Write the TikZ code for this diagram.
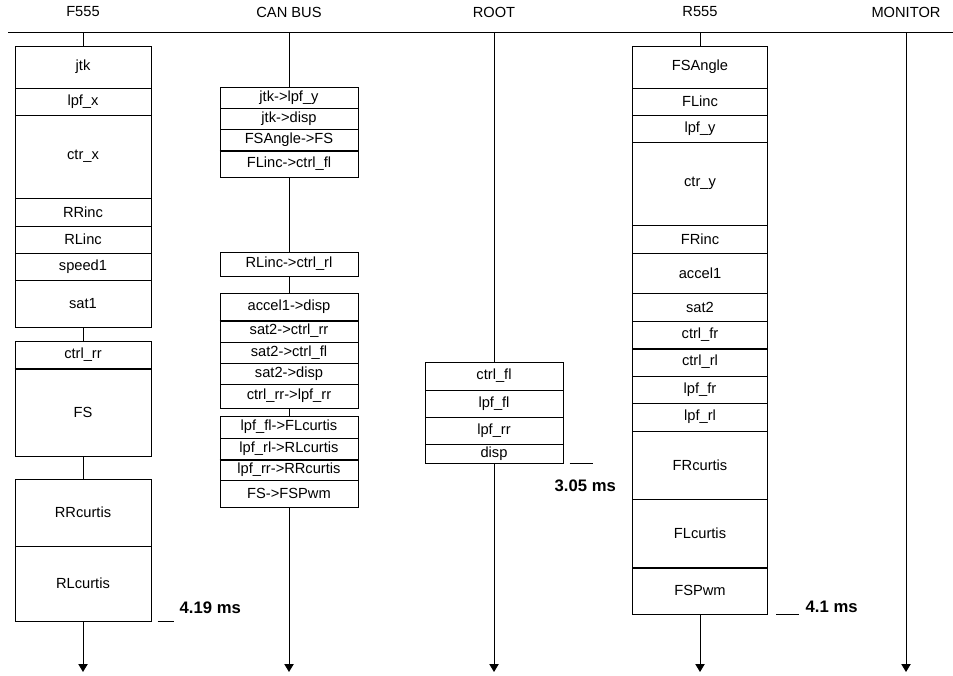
\documentclass[tikz,border=0pt]{standalone}
\usepackage{fontspec}
\setmainfont{Liberation Sans}
\usetikzlibrary{arrows.meta}
\definecolor{ink}{HTML}{000000}
\tikzset{
  cell/.style={draw=ink,line width=0.75pt,inner sep=0,align=center,text=ink,
               font=\fontsize{11}{12}\selectfont},
  head/.style={text=ink,font=\fontsize{11}{13}\selectfont},
  timing/.style={text=ink,anchor=west,font=\fontsize{12.5}{14}\selectfont\bfseries},
  bus/.style={draw=ink,line width=0.75pt},
  flow/.style={bus,-{Triangle[length=6pt,width=7pt]}},
  divider/.style={draw=ink,line width=1.5pt}
}

\begin{document}
\begin{tikzpicture}[x=0.75pt,y=-0.75pt]
  \useasboundingbox (0,0) rectangle (953,675);
  % processors and bus
  \foreach \n/\x/\t in {F/83/F555,C/289/CAN BUS,R/494/ROOT,S/700/R555,M/906/MONITOR}{
    \node[head] (h\n) at (\x,12) {\t};
    \coordinate (t\n) at (\x,32);
    \coordinate (e\n) at (\x,672);}
  \coordinate (busL) at (8,32);
  \coordinate (busR) at (953,32);
  \draw[bus] (busL) -- (busR);
  % F555 tasks
  \foreach \n/\t/\b/\s in {f1/46/88/jtk,f2/88/115/lpf\_x,f3/115/198/ctr\_x,f4/198/226/RRinc,
      f5/226/253/RLinc,f6/253/280/speed1,f7/280/327/sat1,f8/341/368/ctrl\_rr,f9/368/456/FS,
      f10/479/546/RRcurtis,f11/546/621/RLcurtis}
    \node[cell,minimum width=102pt,minimum height=(\b-\t)*0.75pt] (\n) at (83,{(\t+\b)/2}) {\s};
  % CAN messages
  \foreach \n/\t/\b/\s in {c1/87/108/jtk->lpf\_y,c2/108/129/jtk->disp,c3/129/150/FSAngle->FS,
      c4/150/177/FLinc->ctrl\_fl,c5/252/276/RLinc->ctrl\_rl,c6/293/320/accel1->disp,
      c7/320/342/sat2->ctrl\_rr,c8/342/363/sat2->ctrl\_fl,c9/363/384/sat2->disp,
      c10/384/408/ctrl\_rr->lpf\_rr,c11/416/438/lpf\_fl->FLcurtis,c12/438/459/lpf\_rl->RLcurtis,
      c13/459/480/lpf\_rr->RRcurtis,c14/480/507/FS->FSPwm}
    \node[cell,minimum width=103.5pt,minimum height=(\b-\t)*0.75pt] (\n) at (289,{(\t+\b)/2}) {\s};
  % ROOT tasks
  \foreach \n/\t/\b/\s in {r1/362/390/ctrl\_fl,r2/390/417/lpf\_fl,r3/417/444/lpf\_rr,r4/444/463/disp}
    \node[cell,minimum width=103.5pt,minimum height=(\b-\t)*0.75pt] (\n) at (494,{(\t+\b)/2}) {\s};
  % R555 tasks
  \foreach \n/\t/\b/\s in {s1/46/88/FSAngle,s2/88/115/FLinc,s3/115/142/lpf\_y,s4/142/225/ctr\_y,
      s5/225/253/FRinc,s6/253/293/accel1,s7/293/321/sat2,s8/321/348/ctrl\_fr,s9/348/376/ctrl\_rl,
      s10/376/403/lpf\_fr,s11/403/431/lpf\_rl,s12/431/499/FRcurtis,s13/499/567/FLcurtis,
      s14/567/614/FSPwm}
    \node[cell,minimum width=101.25pt,minimum height=(\b-\t)*0.75pt] (\n) at (700,{(\t+\b)/2}) {\s};
  \foreach \a in {f8,c3,c6,c12,s8,s13}
    \draw[divider] (\a.south west) -- (\a.south east);
  % time lines
  \foreach \a/\b in {tF/f1.north,f7.south/f8.north,f9.south/f10.north,tC/c1.north,
      c4.south/c5.north,c5.south/c6.north,c10.south/c11.north,tR/r1.north,tS/s1.north}
    \draw[bus] (\a) -- (\b);
  \foreach \a/\b in {f11.south/eF,c14.south/eC,r4.south/eR,s14.south/eS,tM/eM}
    \draw[flow] (\a) -- (\b);
  % end times
  \draw[bus] (f11.south east) ++(6,0) coordinate (dF) -- ++(16,0);
  \draw[bus] (r4.south east) ++(6,0) coordinate (dR) -- ++(23,0);
  \draw[bus] (s14.south east) ++(8,0) coordinate (dS) -- ++(23,0);
  \node[timing] (msF) at (175,608) {4.19 ms};
  \node[timing] (msR) at (550,486) {3.05 ms};
  \node[timing] (msS) at (801,607) {4.1 ms};
\end{tikzpicture}
\end{document}
